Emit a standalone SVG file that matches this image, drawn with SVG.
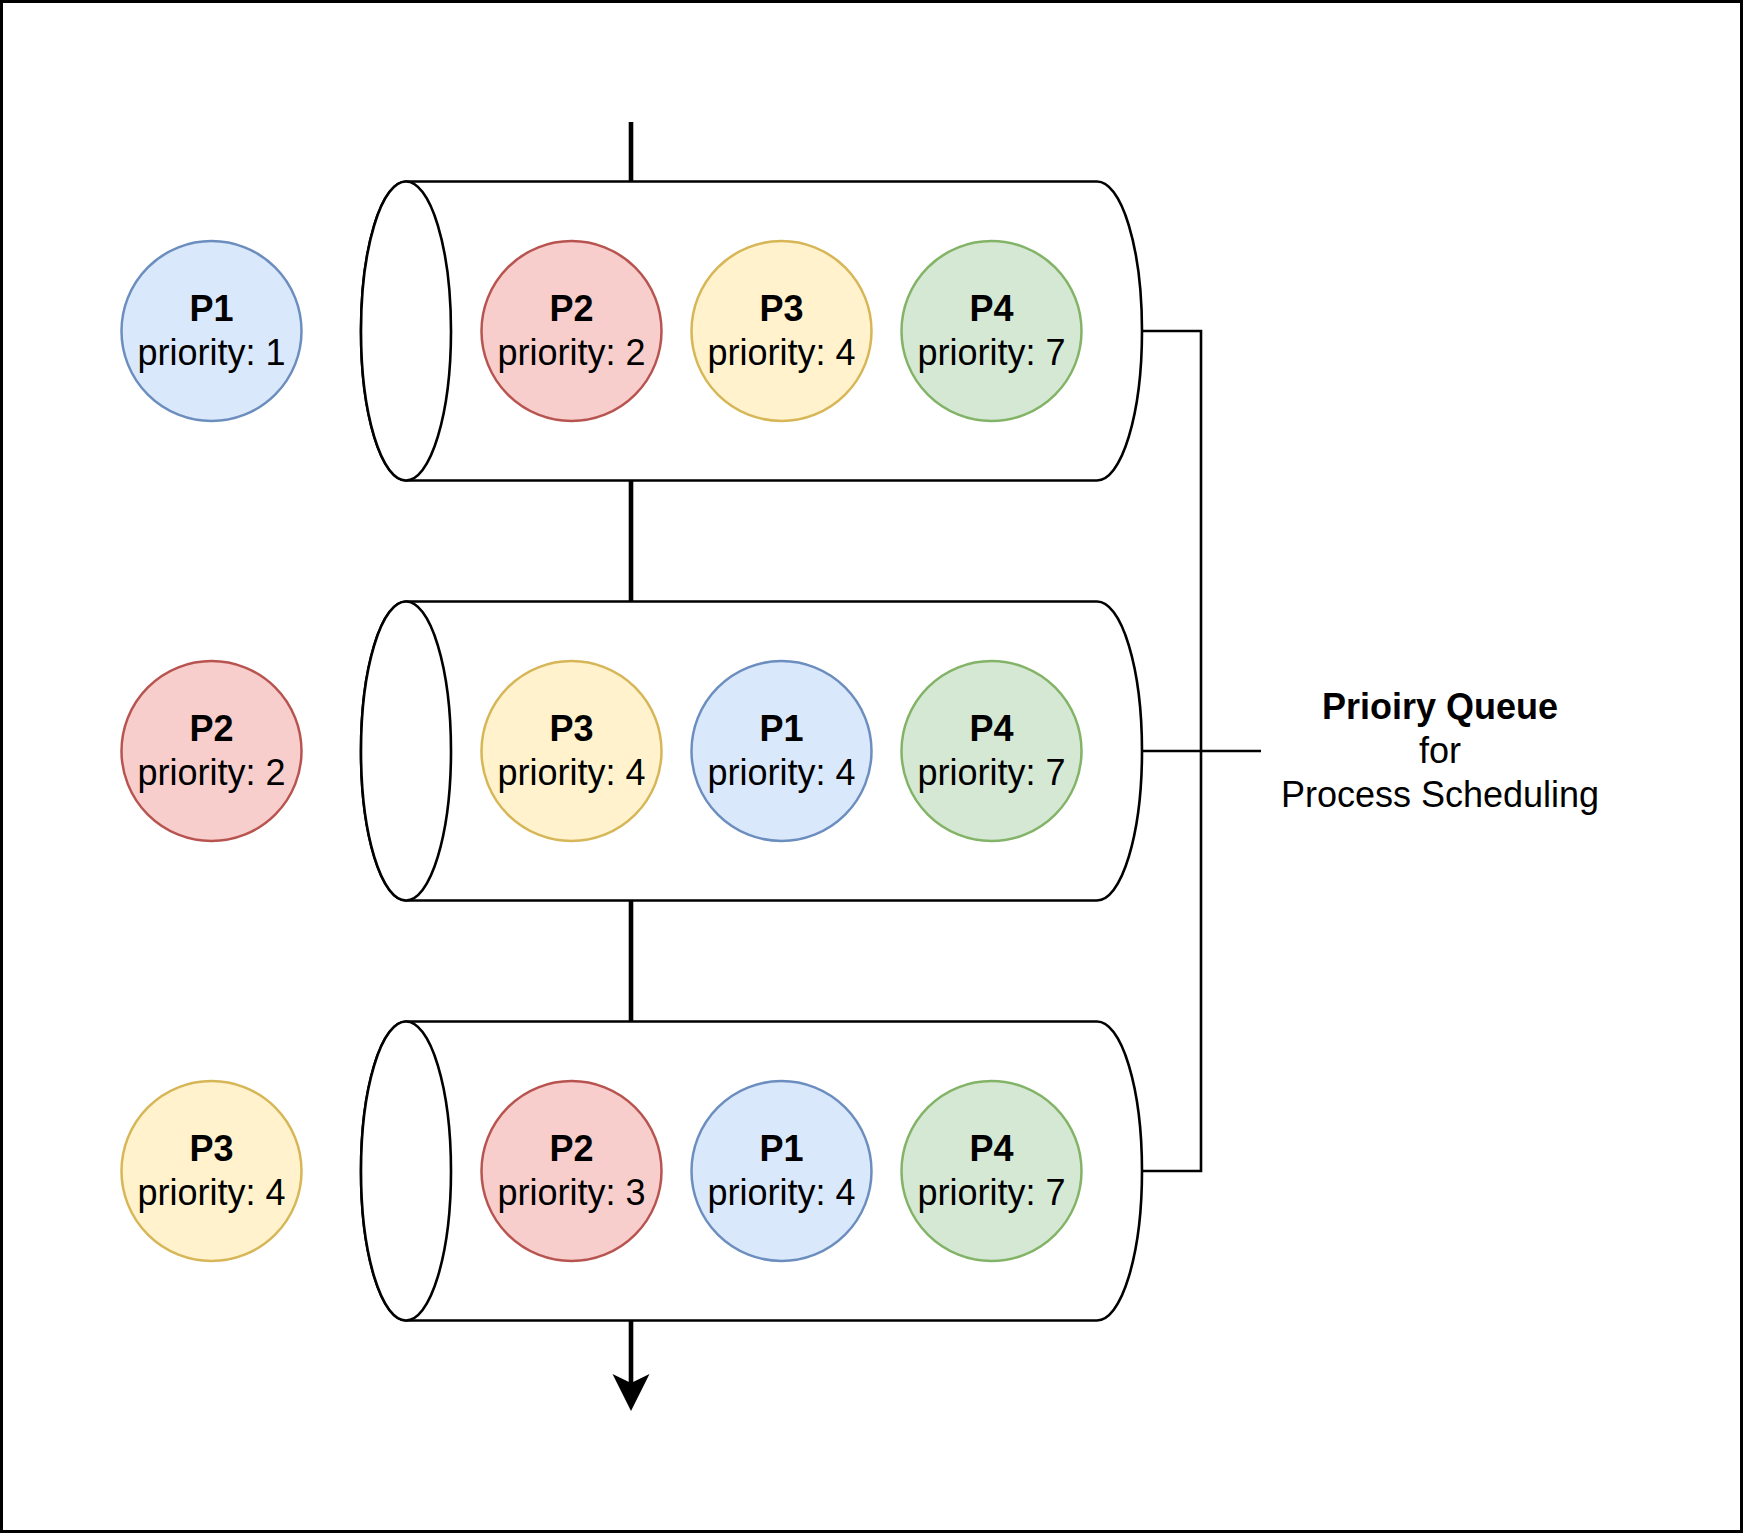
<svg xmlns="http://www.w3.org/2000/svg" width="1743" height="1533" viewBox="0 0 1743 1533">
<style>
  text { font-family: "Liberation Sans", Arial, Helvetica, sans-serif; font-size: 36px; fill: #000; text-anchor: middle; }
  .b { font-weight: bold; }
  .cyl { fill: #fff; stroke: #000; stroke-width: 2.6; }
  .blue { fill: #dae8fc; stroke: #6c8ebf; stroke-width: 2.5; }
  .red { fill: #f8cecc; stroke: #b85450; stroke-width: 2.5; }
  .yellow { fill: #fff2cc; stroke: #d6b656; stroke-width: 2.5; }
  .green { fill: #d5e8d4; stroke: #82b366; stroke-width: 2.5; }
  .flow { fill: none; stroke: #000; stroke-width: 4.6; }
  .bracket { fill: none; stroke: #000; stroke-width: 2.6; }
</style>
<defs>
  <marker id="arrow" markerUnits="userSpaceOnUse" markerWidth="38" markerHeight="38" viewBox="0 0 38 38" refX="16" refY="18.5" orient="auto">
    <path d="M0,0 L37,18.5 L0,37 L9,18.5 Z" fill="#000"/>
  </marker>
  <path id="cylBody" d="M406,-149.5 L1097,-149.5 A45,149.5 0 0 1 1097,149.5 L406,149.5 A45,149.5 0 0 1 406,-149.5 Z"/>
</defs>
<rect x="1.5" y="1.5" width="1740" height="1530" fill="#fff" stroke="#000" stroke-width="3"/>

<g id="connectors">
  <line class="flow" x1="631" y1="122" x2="631" y2="182"/>
  <line class="flow" x1="631" y1="481" x2="631" y2="602"/>
  <line class="flow" x1="631" y1="901" x2="631" y2="1022"/>
  <line class="flow" x1="631" y1="1321" x2="631" y2="1390" marker-end="url(#arrow)"/>
  <path class="bracket" d="M1142,331 L1201,331 L1201,1171 L1142,1171"/>
  <line class="bracket" x1="1142" y1="751" x2="1261" y2="751"/>
</g>

<g id="queue1" transform="translate(0,331)">
  <use href="#cylBody" class="cyl"/>
  <ellipse class="cyl" cx="406" cy="0" rx="45" ry="149.5"/>
</g>
<g id="queue2" transform="translate(0,751)">
  <use href="#cylBody" class="cyl"/>
  <ellipse class="cyl" cx="406" cy="0" rx="45" ry="149.5"/>
</g>
<g id="queue3" transform="translate(0,1171)">
  <use href="#cylBody" class="cyl"/>
  <ellipse class="cyl" cx="406" cy="0" rx="45" ry="149.5"/>
</g>

<!-- Row 1 -->
<g id="r1-out-p1"><circle class="blue" cx="211.5" cy="331" r="90"/><text x="211.5" y="321" class="b">P1</text><text x="211.5" y="365">priority: 1</text></g>
<g id="r1-p2"><circle class="red" cx="571.5" cy="331" r="90"/><text x="571.5" y="321" class="b">P2</text><text x="571.5" y="365">priority: 2</text></g>
<g id="r1-p3"><circle class="yellow" cx="781.5" cy="331" r="90"/><text x="781.5" y="321" class="b">P3</text><text x="781.5" y="365">priority: 4</text></g>
<g id="r1-p4"><circle class="green" cx="991.5" cy="331" r="90"/><text x="991.5" y="321" class="b">P4</text><text x="991.5" y="365">priority: 7</text></g>

<!-- Row 2 -->
<g id="r2-out-p2"><circle class="red" cx="211.5" cy="751" r="90"/><text x="211.5" y="741" class="b">P2</text><text x="211.5" y="785">priority: 2</text></g>
<g id="r2-p3"><circle class="yellow" cx="571.5" cy="751" r="90"/><text x="571.5" y="741" class="b">P3</text><text x="571.5" y="785">priority: 4</text></g>
<g id="r2-p1"><circle class="blue" cx="781.5" cy="751" r="90"/><text x="781.5" y="741" class="b">P1</text><text x="781.5" y="785">priority: 4</text></g>
<g id="r2-p4"><circle class="green" cx="991.5" cy="751" r="90"/><text x="991.5" y="741" class="b">P4</text><text x="991.5" y="785">priority: 7</text></g>

<!-- Row 3 -->
<g id="r3-out-p3"><circle class="yellow" cx="211.5" cy="1171" r="90"/><text x="211.5" y="1161" class="b">P3</text><text x="211.5" y="1205">priority: 4</text></g>
<g id="r3-p2"><circle class="red" cx="571.5" cy="1171" r="90"/><text x="571.5" y="1161" class="b">P2</text><text x="571.5" y="1205">priority: 3</text></g>
<g id="r3-p1"><circle class="blue" cx="781.5" cy="1171" r="90"/><text x="781.5" y="1161" class="b">P1</text><text x="781.5" y="1205">priority: 4</text></g>
<g id="r3-p4"><circle class="green" cx="991.5" cy="1171" r="90"/><text x="991.5" y="1161" class="b">P4</text><text x="991.5" y="1205">priority: 7</text></g>

<g id="title">
  <text x="1440" y="719" class="b">Prioiry Queue</text>
  <text x="1440" y="763">for</text>
  <text x="1440" y="807">Process Scheduling</text>
</g>
</svg>
